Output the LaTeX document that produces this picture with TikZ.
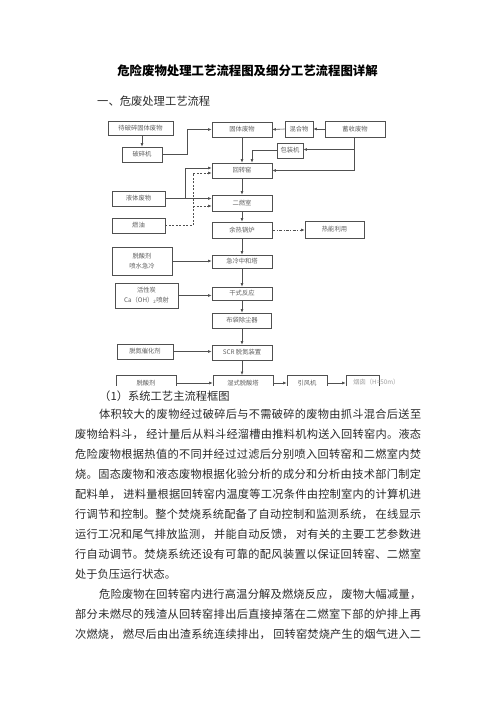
\documentclass[tikz,border=0pt]{standalone}
\usepackage{fontspec}
\setmainfont{Noto Sans CJK SC}
\usetikzlibrary{arrows.meta,calc}
\definecolor{txt}{HTML}{2A2A2A}
\definecolor{bx}{HTML}{505050}
\definecolor{bt}{HTML}{606060}
\def\jlend{\jlend}
\def\jlsp{\hskip 2pt}
\def\jl#1#2{\hbox to #1{\jlfirst#2\jlend}}
\def\jlfirst#1{#1\jlloop}
\def\jlloop#1{\ifx\jlend#1\else\hfil#1\expandafter\jlloop\fi}
\tikzset{
  box/.style={draw=bx, line width=0.6pt, fill=white, inner sep=0pt,
    font=\fontsize{6.3}{7.8}\selectfont, text=bt},
  conn/.style={draw=bx, line width=0.6pt},
  arr/.style={conn, -{Latex[length=3.5pt,width=2.8pt]}},
  dsh/.style={arr, dash pattern=on 2pt off 1.5pt},
  dshdot/.style={arr, dash pattern=on 3pt off 1.5pt on 0.8pt off 1.5pt},
  body/.style={inner sep=0pt, anchor=west, text=txt, font=\fontsize{11.2}{13}\selectfont}
}
\begin{document}
\begin{tikzpicture}[x=1pt,y=-1pt]
\path[fill=white, use as bounding box] (0,0) rectangle (496,702);

% headings
\node[font=\fontsize{12.4}{14}\selectfont\bfseries, text=black] (title) at (247.5,71) {危险废物处理工艺流程图及细分工艺流程图详解};
\node[font=\fontsize{11.3}{13}\selectfont, text=txt, anchor=west, inner sep=0pt] (sec) at (97,101) {一、危废处理工艺流程};

% flow chart boxes
\node[box, minimum width=65pt, minimum height=14pt] (A) at (140.5,128) {待破碎固体废物};
\node[box, minimum width=40pt, minimum height=15pt] (B) at (142,154.5) {破碎机};
\node[box, minimum width=60pt, minimum height=15pt] (C) at (242,129.5) {固体废物};
\node[box, minimum width=28pt, minimum height=16pt] (D) at (299,129) {混合物};
\node[box, minimum width=60pt, minimum height=16pt] (E) at (355,129) {蓄收废物};
\node[box, minimum width=26pt, minimum height=15pt] (F) at (290,150.5) {包装机};
\node[box, minimum width=60pt, minimum height=15pt] (G) at (242,170.5) {回转窑};
\node[box, minimum width=53pt, minimum height=15pt] (H) at (138.5,198.5) {液体废物};
\node[box, minimum width=60pt, minimum height=16pt] (I) at (242,203) {二燃室};
\node[box, minimum width=53pt, minimum height=15pt] (J) at (138.5,225.5) {燃油};
\node[box, minimum width=60pt, minimum height=16pt] (K) at (242,230) {余热锅炉};
\node[box, minimum width=59pt, minimum height=17pt] (L) at (334.5,229.5) {热能利用};
\node[box, minimum width=60pt, minimum height=28pt, align=center] (M) at (142,261) {脱酸剂\\[2pt]喷水急冷};
\node[box, minimum width=60pt, minimum height=13pt] (N) at (242,261.5) {急冷中和塔};
\node[box, minimum width=63pt, minimum height=25pt, align=center] (O) at (146.5,295.5) {活性炭\\[2pt]Ca（OH）\textsubscript{2}喷射};
\node[box, minimum width=60pt, minimum height=13pt] (P) at (242,293.5) {干式反应};
\node[box, minimum width=59pt, minimum height=15pt] (Q) at (242,320.5) {布袋除尘器};
\node[box, minimum width=56pt, minimum height=15pt] (R) at (145,351.5) {脱氮催化剂};
\node[box, minimum width=60pt, minimum height=15pt] (S) at (242,352.5) {SCR 脱氮装置};

% connectors
\draw[arr] (A.south -| B.north) -- (B.north);
\draw[arr] (B.east) -- ++(25,0) |- (C.west);
\draw[arr] (E.west) -- (D.east);
\draw[arr] (D.west) -- (C.east);
\coordinate (ej) at (354,149.5);
\coordinate (ek) at (354,170.5);
\draw[conn] (E.south -| ej) -- (ek);
\draw[arr] (ej) -- (ej -| F.east);
\draw[arr] (ek) -- (G.east);
\draw[arr] (F.west) -| ($(G.north)+(10,0)$);
\draw[arr] (C.south) -- (G.north);
\coordinate (hj) at (185,198.5);
\draw[arr] (H.east) -- (hj) |- ($(G.west)+(0,-2.5)$);
\draw[arr] (hj) -- (hj -| I.west);
\coordinate (jj) at (193,225.5);
\draw[dsh] (J.east) -- (jj) |- ($(G.west)+(0,2.5)$);
\draw[dsh] (jj |- 0,206) -- (I.west |- 0,206);
\draw[arr] (G.south) -- (I.north);
\draw[arr] (I.south) -- (K.north);
\draw[dshdot] (K.east) -- (K.east -| L.west);
\draw[arr] (K.south) -- (N.north);
\draw[arr] (M.east) -- (M.east -| N.west);
\draw[arr] (N.south) -- (P.north);
\draw[arr] (O.east) -- (O.east -| P.west);
\draw[arr] (P.south) -- (Q.north);
\draw[arr] (Q.south) -- (S.north);
\draw[arr] (R.east) -- (R.east -| S.west);

% bottom row (cut off by picture edge)
\begin{scope}
\clip (100,368) rectangle (430,385);
\node[box, minimum width=60pt, minimum height=16pt] (T) at (146,383) {脱酸剂};
\node[box, minimum width=60pt, minimum height=16pt] (U) at (243,383) {湿式脱酸塔};
\node[box, minimum width=40pt, minimum height=16pt] (V) at (307,383) {引风机};
\node[box, minimum width=33pt, minimum height=16pt] (W) at (362.5,383) {};
\node[box, draw=none, fill=none, anchor=west, text=bt!60] (Wt) at (353,382) {烟囱（H=50m）};
\draw[arr] (T.east) -- (U.west);
\draw[arr] (U.east) -- (V.west);
\draw[arr] (V.east) -- (W.west);
\end{scope}
\draw[arr] (S.south) -- (S.south |- 0,375);

% caption and body text
\node[font=\fontsize{11.3}{13}\selectfont, text=txt, anchor=west, inner sep=0pt] (cap) at (99,396) {（1）系统工艺主流程框图};

\node[body] (b1) at (99,414) {\jl{322pt}{体积较大的废物经过破碎后与不需破碎的废物由抓斗混合后送至}};
\node[body] (b2) at (75,434) {\jl{346pt}{废物给料斗，\jlsp 经计量后从料斗经溜槽由推料机构送入回转窑内。液态}};
\node[body] (b3) at (75,454) {\jl{346pt}{危险废物根据热值的不同并经过过滤后分别喷入回转窑和二燃室内焚}};
\node[body] (b4) at (75,474) {\jl{346pt}{烧。固态废物和液态废物根据化验分析的成分和分析由技术部门制定}};
\node[body] (b5) at (75,494) {\jl{346pt}{配料单，\jlsp 进料量根据回转窑内温度等工况条件由控制室内的计算机进}};
\node[body] (b6) at (75,514) {\jl{346pt}{行调节和控制。整个焚烧系统配备了自动控制和监测系统，\jlsp 在线显示}};
\node[body] (b7) at (75,534) {\jl{346pt}{运行工况和尾气排放监测，\jlsp 并能自动反馈，\jlsp 对有关的主要工艺参数进}};
\node[body] (b8) at (75,554) {\jl{346pt}{行自动调节。焚烧系统还设有可靠的配风装置以保证回转窑、二燃室}};
\node[body] (b9) at (75,574) {处于负压运行状态。};
\node[body] (b10) at (99,594) {\jl{322pt}{危险废物在回转窑内进行高温分解及燃烧反应，\jlsp 废物大幅减量，}};
\node[body] (b11) at (75,614) {\jl{346pt}{部分未燃尽的残渣从回转窑排出后直接掉落在二燃室下部的炉排上再}};
\node[body] (b12) at (75,634) {\jl{346pt}{次燃烧，\jlsp 燃尽后由出渣系统连续排出，\jlsp 回转窑焚烧产生的烟气进入二}};
\end{tikzpicture}
\end{document}
